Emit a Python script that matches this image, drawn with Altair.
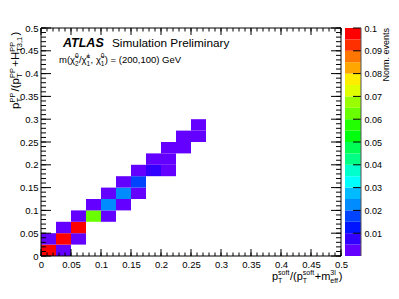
import altair as alt
import pandas as pd

FONT = "Liberation Sans"

# ---- data: 2D histogram cells (lower bin edges, bin width 0.025) ----
BIN = 0.025
CELL_XLO = [0.0, 0.025, 0.0, 0.025, 0.05, 0.025, 0.05, 0.05, 0.075, 0.1,
            0.075, 0.1, 0.125, 0.1, 0.125, 0.15, 0.125, 0.15, 0.15, 0.175,
            0.2, 0.175, 0.2, 0.2, 0.225, 0.225, 0.25, 0.25]
CELL_YLO = [0.0, 0.0, 0.025, 0.025, 0.025, 0.05, 0.05, 0.075, 0.075, 0.075,
            0.1, 0.1, 0.1, 0.125, 0.125, 0.125, 0.15, 0.15, 0.175, 0.175,
            0.175, 0.2, 0.2, 0.225, 0.225, 0.25, 0.25, 0.275]
CELL_VAL = [0.099, 0.003, 0.003, 0.098, 0.003, 0.003, 0.097, 0.003, 0.062, 0.003,
            0.003, 0.023, 0.003, 0.003, 0.022, 0.003, 0.003, 0.017, 0.003, 0.008,
            0.003, 0.003, 0.003, 0.003, 0.003, 0.003, 0.003, 0.003]

# colour palette levels (20 contours, 0 .. 0.1)
LEVELS = [0.0, 0.005, 0.01, 0.015, 0.02, 0.025, 0.03, 0.035, 0.04, 0.045, 0.05,
          0.055, 0.06, 0.065, 0.07, 0.075, 0.08, 0.085, 0.09, 0.095, 0.1]
COLORS = ["#6300ff", "#3300ff", "#0014ff", "#0044ff", "#008bff", "#00bbff",
          "#00fffc", "#00ffcc", "#00ff85", "#00ff55", "#00ff0e", "#22ff00",
          "#69ff00", "#99ff00", "#e0ff00", "#ffee00", "#ffa700", "#ff7700",
          "#ff3000", "#ff0000"]

# axis ticks / labels
AX_MAJOR = [0, 0.05, 0.1, 0.15, 0.2, 0.25, 0.3, 0.35, 0.4, 0.45, 0.5]
AX_MINOR = [round(k * 0.01, 2) for k in range(51)]
CB_MAJOR = [0.01, 0.02, 0.03, 0.04, 0.05, 0.06, 0.07, 0.08, 0.09, 0.1]

W, H = 300, 228
CBW = 16

cells = pd.DataFrame({
    "x": CELL_XLO, "x2": [v + BIN for v in CELL_XLO],
    "y": CELL_YLO, "y2": [v + BIN for v in CELL_YLO],
    "v": CELL_VAL,
})
bands = pd.DataFrame({
    "lo": LEVELS[:-1], "hi": LEVELS[1:],
    "mid": [(a + b) / 2 for a, b in zip(LEVELS[:-1], LEVELS[1:])],
})

XS = alt.Scale(domain=[0, 0.5], nice=False, zero=False)
YS = alt.Scale(domain=[0, 0.5], nice=False, zero=False)
CS = alt.Scale(domain=[0, 0.1], nice=False, zero=False)
COL = alt.Scale(type="threshold", domain=LEVELS[1:-1], range=COLORS)

lab = dict(labelFont=FONT, labelColor="black", ticks=False,
           tickSize=0, domain=False, grid=False, title=None, format=".2~f",
           labelFlush=False, labelOverlap=False)
XAX = alt.Axis(values=AX_MAJOR, labelPadding=3, labelFontSize=9.5, **lab)
YAX = alt.Axis(values=AX_MAJOR, labelPadding=3, labelFontSize=9.5, **lab)
CAX = alt.Axis(orient="right", values=CB_MAJOR, labelPadding=3, labelFontSize=9, **lab)

ONE = alt.Data(values=[{"a": 1}])

WID = {"0": .556, "1": .556, "2": .556, "3": .556, "4": .556, "5": .556, "6": .556,
       "7": .556, "8": .556, "9": .556, ".": .278, ",": .278, " ": .278, "(": .333,
       ")": .333, "/": .278, "+": .584, "=": .584, "\u00b1": .584, "m": .833,
       "p": .556, "P": .667, "T": .611, "H": .722, "s": .5, "o": .556, "f": .278,
       "t": .278, "e": .556, "l": .222, "G": .778, "V": .667, "\u03c7": .52,
       "\u0303": 0.0}


def tw(s, size):
    return sum(WID.get(c, .556) for c in s) * size


def txt(s, x, y, size, angle=0, align="left", baseline="alphabetic",
        weight="normal", style="normal"):
    return alt.Chart(ONE).mark_text(
        text=s, font=FONT, fontSize=size, angle=angle, align=align,
        baseline=baseline, fontWeight=weight, fontStyle=style, color="black"
    ).encode(x=alt.value(x), y=alt.value(y))


def hrun(pieces, x0, yb, main, small, up, down, gap=0.6):
    out, x = [], x0
    for p in pieces:
        if isinstance(p, tuple):
            sup, sub = p
            if sup:
                out.append(txt(sup, x, yb - up, small))
            if sub:
                out.append(txt(sub, x, yb + down, small))
            x += max(tw(sup, small), tw(sub, small)) + gap
        else:
            out.append(txt(p, x, yb, main))
            x += tw(p, main)
    return out


def vrun(pieces, xb, y0, main, small, up, down, gap=0.8):
    out, y = [], y0
    for p in pieces:
        if isinstance(p, tuple):
            sup, sub = p
            if sup:
                out.append(txt(sup, xb - up, y, small, angle=270))
            if sub:
                out.append(txt(sub, xb + down, y, small, angle=270))
            y -= max(tw(sup, small), tw(sub, small)) + gap
        else:
            out.append(txt(p, xb, y, main, angle=270))
            y -= tw(p, main)
    return out


def tick_rules(vals, scale, axis, horizontal_axis, a, b):
    base = alt.Chart(pd.DataFrame({"v": vals})).mark_rule(color="black", strokeWidth=1)
    if horizontal_axis:
        return base.encode(x=alt.X("v:Q", scale=scale, axis=axis),
                           y=alt.value(a), y2=alt.value(b))
    return base.encode(y=alt.Y("v:Q", scale=scale, axis=axis),
                       x=alt.value(a), x2=alt.value(b))


heat = alt.Chart(cells).mark_rect(strokeWidth=0).encode(
    x=alt.X("x:Q", scale=XS, axis=XAX),
    x2="x2:Q",
    y=alt.Y("y:Q", scale=YS, axis=YAX),
    y2="y2:Q",
    color=alt.Color("v:Q", scale=COL, legend=None),
)

frame = alt.Chart(ONE).mark_rect(filled=False, stroke="black", strokeWidth=1).encode(
    x=alt.value(0), x2=alt.value(W), y=alt.value(0), y2=alt.value(H))

ticks = [
    tick_rules(AX_MAJOR, XS, XAX, True, H, H - 7),
    tick_rules(AX_MINOR, XS, XAX, True, H, H - 3.5),
    tick_rules(AX_MAJOR, XS, XAX, True, 0, 7),
    tick_rules(AX_MINOR, XS, XAX, True, 0, 3.5),
    tick_rules(AX_MAJOR, YS, YAX, False, 0, 10),
    tick_rules(AX_MINOR, YS, YAX, False, 0, 5),
    tick_rules(AX_MAJOR, YS, YAX, False, W, W - 10),
    tick_rules(AX_MINOR, YS, YAX, False, W, W - 5),
]

texts = [
    txt("ATLAS", 22, 19, 12.5, weight="bold", style="italic"),
    txt("Simulation Preliminary", 71, 19, 11.8),
]
texts += hrun(["m(", "\u03c7\u0303", ("0", "2"), "/", "\u03c7\u0303", ("\u00b1", "1"),
               ", ", "\u03c7\u0303", ("0", "1"), ") = (200,100) GeV"],
              18, 35, 9.5, 6.5, 5.0, 2.5, gap=0.3)
texts += hrun(["p", ("soft", "T"), "/(p", ("soft", "T"), "+m", ("3l", "eff"), ")"],
              W - 69, H + 24, 11, 7, 5.5, 2.7)
texts += vrun(["p", ("PP", "T"), "/(p", ("PP", "T"), "+H", ("PP", "T3,1"), ")"],
              -22, 81, 11.5, 7.5, 4.5, 2.5, gap=1.2)

main = alt.layer(heat, *ticks, frame, *texts).properties(width=W, height=H)

cbar_rects = alt.Chart(bands).mark_rect(strokeWidth=0).encode(
    x=alt.value(0), x2=alt.value(CBW),
    y=alt.Y("lo:Q", scale=CS, axis=CAX),
    y2="hi:Q",
    color=alt.Color("mid:Q", scale=COL, legend=None),
)
cbar_edge = alt.Chart(ONE).mark_rule(color="#555555", strokeWidth=1).encode(
    x=alt.value(CBW), y=alt.value(0), y2=alt.value(H))
cbar_ticks = tick_rules(CB_MAJOR, CS, CAX, False, CBW, CBW - 8)
cbar_title = txt("Norm. events", 37, 0, 9, angle=270, align="right", baseline="top")

cbar = alt.layer(cbar_rects, cbar_ticks, cbar_edge, cbar_title).properties(width=CBW, height=H)

chart = alt.hconcat(main, cbar, spacing=4, bounds="flush").properties(
    padding={"left": 0, "top": 15, "right": 0, "bottom": 0},
    background="white",
).configure_view(stroke=None)

chart.save("out.html", embed_options={"renderer": "svg", "actions": False})
